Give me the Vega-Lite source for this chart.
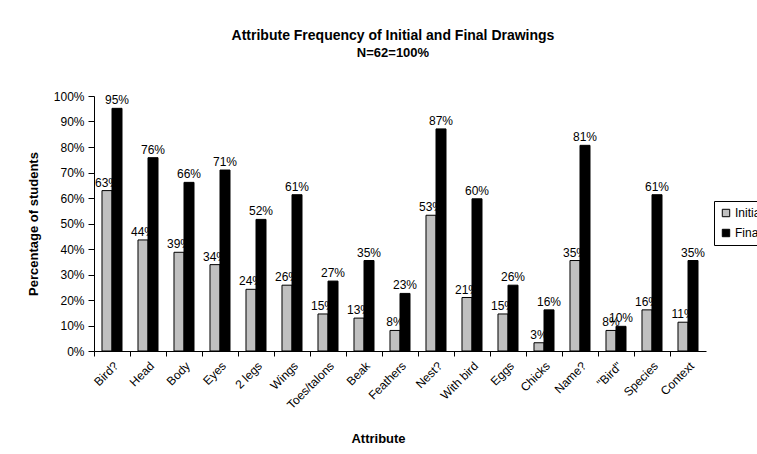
{
  "$schema": "https://vega.github.io/schema/vega-lite/v6.json",
  "width": 612,
  "height": 255,
  "autosize": {"type": "none"},
  "padding": {"left": 94, "top": 96, "right": 51, "bottom": 103},
  "background": "white",
  "title": {
    "text": "Attribute Frequency of Initial and Final Drawings",
    "subtitle": "N=62=100%",
    "font": "Liberation Sans",
    "fontSize": 14,
    "fontWeight": "bold",
    "color": "black",
    "subtitleFont": "Liberation Sans",
    "subtitleFontSize": 13,
    "subtitleFontWeight": "bold",
    "subtitleColor": "black",
    "subtitlePadding": 4,
    "anchor": "middle",
    "frame": "group",
    "dx": -7,
    "offset": 30
  },
  "data": {
    "values": [
      {"attribute": "Bird?", "series": "Initial", "pct": 0.629},
      {"attribute": "Bird?", "series": "Final", "pct": 0.9516},
      {"attribute": "Head", "series": "Initial", "pct": 0.4355},
      {"attribute": "Head", "series": "Final", "pct": 0.7581},
      {"attribute": "Body", "series": "Initial", "pct": 0.3871},
      {"attribute": "Body", "series": "Final", "pct": 0.6613},
      {"attribute": "Eyes", "series": "Initial", "pct": 0.3387},
      {"attribute": "Eyes", "series": "Final", "pct": 0.7097},
      {"attribute": "2 legs", "series": "Initial", "pct": 0.2419},
      {"attribute": "2 legs", "series": "Final", "pct": 0.5161},
      {"attribute": "Wings", "series": "Initial", "pct": 0.2581},
      {"attribute": "Wings", "series": "Final", "pct": 0.6129},
      {"attribute": "Toes/talons", "series": "Initial", "pct": 0.1452},
      {"attribute": "Toes/talons", "series": "Final", "pct": 0.2742},
      {"attribute": "Beak", "series": "Initial", "pct": 0.129},
      {"attribute": "Beak", "series": "Final", "pct": 0.3548},
      {"attribute": "Feathers", "series": "Initial", "pct": 0.0806},
      {"attribute": "Feathers", "series": "Final", "pct": 0.2258},
      {"attribute": "Nest?", "series": "Initial", "pct": 0.5323},
      {"attribute": "Nest?", "series": "Final", "pct": 0.871},
      {"attribute": "With bird", "series": "Initial", "pct": 0.2097},
      {"attribute": "With bird", "series": "Final", "pct": 0.5968},
      {"attribute": "Eggs", "series": "Initial", "pct": 0.1452},
      {"attribute": "Eggs", "series": "Final", "pct": 0.2581},
      {"attribute": "Chicks", "series": "Initial", "pct": 0.0323},
      {"attribute": "Chicks", "series": "Final", "pct": 0.1613},
      {"attribute": "Name?", "series": "Initial", "pct": 0.3548},
      {"attribute": "Name?", "series": "Final", "pct": 0.8065},
      {"attribute": "\"Bird\"", "series": "Initial", "pct": 0.0806},
      {"attribute": "\"Bird\"", "series": "Final", "pct": 0.0968},
      {"attribute": "Species", "series": "Initial", "pct": 0.1613},
      {"attribute": "Species", "series": "Final", "pct": 0.6129},
      {"attribute": "Context", "series": "Initial", "pct": 0.1129},
      {"attribute": "Context", "series": "Final", "pct": 0.3548}
    ]
  },
  "encoding": {
    "x": {
      "field": "attribute",
      "type": "nominal",
      "sort": null,
      "scale": {"paddingInner": 0.4444, "paddingOuter": 0.2222},
      "axis": {
        "title": "Attribute",
        "titleFont": "Liberation Sans",
        "titleFontSize": 13,
        "titleFontWeight": "bold",
        "titleColor": "black",
        "titleX": 284,
        "titleY": 81,
        "labelAngle": -45,
        "labelFont": "Liberation Sans",
        "labelFontSize": 12,
        "labelColor": "black",
        "labelPadding": 4,
        "tickOffset": -18,
        "labelOffset": 18,
        "tickSize": 5,
        "tickColor": "black",
        "domainColor": "black",
        "grid": false
      }
    },
    "xOffset": {"field": "series", "sort": ["Initial", "Final"], "scale": {"paddingInner": 0, "paddingOuter": 0}},
    "y": {
      "field": "pct",
      "type": "quantitative",
      "scale": {"domain": [0, 1]},
      "axis": {
        "title": "Percentage of students",
        "titleFont": "Liberation Sans",
        "titleFontSize": 13,
        "titleFontWeight": "bold",
        "titleColor": "black",
        "titlePadding": 13,
        "format": ".0%",
        "values": [0, 0.1, 0.2, 0.3, 0.4, 0.5, 0.6, 0.7, 0.8, 0.9, 1],
        "labelFont": "Liberation Sans",
        "labelFontSize": 12,
        "labelColor": "black",
        "labelPadding": 4,
        "tickSize": 6,
        "tickColor": "black",
        "domainColor": "black",
        "grid": false
      }
    }
  },
  "layer": [
    {
      "mark": {"type": "bar", "stroke": "black", "strokeWidth": 1},
      "encoding": {
        "color": {
          "field": "series",
          "type": "nominal",
          "scale": {"domain": ["Initial", "Final"], "range": ["#c0c0c0", "#000000"]},
          "legend": {
            "title": null,
            "orient": "none",
            "legendX": 620,
            "legendY": 105,
            "strokeColor": "black",
            "fillColor": "white",
            "padding": 6,
            "symbolType": "square",
            "symbolSize": 55,
            "symbolStrokeColor": "black",
            "symbolStrokeWidth": 1,
            "labelFont": "Liberation Sans",
            "labelFontSize": 12,
            "labelColor": "black",
            "rowPadding": 8,
            "labelOffset": 3
          }
        }
      }
    },
    {
      "mark": {"type": "text", "font": "Liberation Sans", "fontSize": 12, "color": "black", "baseline": "alphabetic", "dy": -4},
      "encoding": {
        "text": {"field": "pct", "format": ".0%"}
      }
    }
  ],
  "config": {"view": {"stroke": null}}
}
